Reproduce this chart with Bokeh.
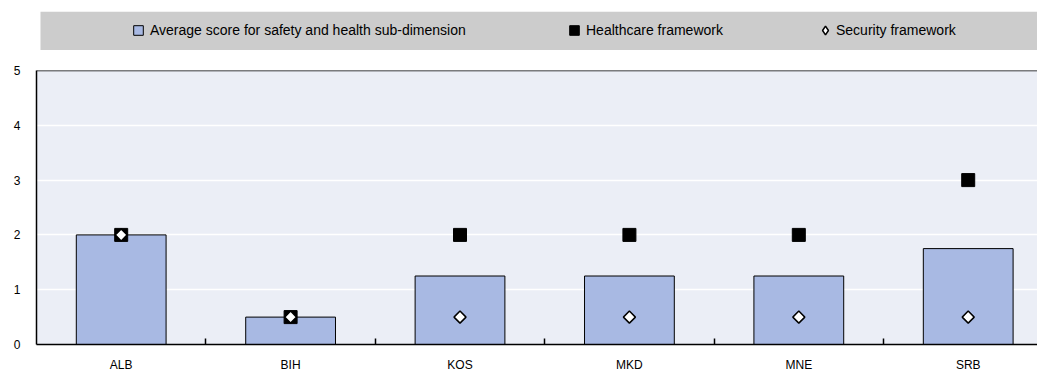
from bokeh.plotting import figure
from bokeh.models import (Range1d, FixedTicker, Legend, LegendItem, Span,
                          ColumnDataSource, BoxAnnotation)
from bokeh.layouts import column
from bokeh.embed import file_html
from bokeh.resources import INLINE

# ---- data ----
countries = ["ALB", "BIH", "KOS", "MKD", "MNE", "SRB"]
avg_score = [2.0, 0.5, 1.25, 1.25, 1.25, 1.75]
healthcare = [2.0, 0.5, 2.0, 2.0, 2.0, 3.0]
security = [2.0, 0.5, 0.5, 0.5, 0.5, 0.5]
y_ticks = [0, 1, 2, 3, 4, 5]
series_labels = ["Average score for safety and health sub-dimension",
                 "Healthcare framework",
                 "Security framework"]

FONT = "Liberation Sans"
BAR = "#A8B9E3"
BG = "#EBEEF6"
LEG_BG = "#CCCCCC"

xpos = [i + 0.5 for i in range(len(countries))]
bounds = list(range(1, len(countries)))
src = ColumnDataSource(dict(x=xpos, country=countries, avg=avg_score,
                            hc=healthcare, sec=security))

# ---- main plot ----
p = figure(width=1037, height=324, output_backend="svg", toolbar_location=None,
           x_range=Range1d(0, 5.909), y_range=Range1d(0, 5),
           min_border_left=36, min_border_right=0, min_border_top=20,
           min_border_bottom=28, background_fill_color=BG,
           border_fill_color="white", outline_line_color=None)

p.vbar(x="x", top="avg", width=0.53, source=src, fill_color=BAR,
       line_color="black", line_width=1)
p.scatter(x="x", y="hc", source=src, marker="square", size=13,
          fill_color="black", line_color="black")
p.scatter(x="x", y="sec", source=src, marker="square", angle=0.7854, size=8.5,
          fill_color="white", line_color="black", line_width=1.5)

p.add_layout(Span(location=5, dimension="width", line_color="black", line_width=1.5))

p.xgrid.visible = False
p.ygrid.grid_line_color = "white"
p.ygrid.grid_line_width = 1.5

xa = p.xaxis[0]
xa.ticker = FixedTicker(ticks=xpos, minor_ticks=bounds)
xa.major_label_overrides = {x: c for x, c in zip(xpos, countries)}
xa.major_tick_in = 0
xa.major_tick_out = 0
xa.major_tick_line_color = None
xa.minor_tick_in = 6
xa.minor_tick_out = 0
xa.minor_tick_line_color = "black"
xa.minor_tick_line_width = 1.5
xa.axis_line_color = "black"
xa.axis_line_width = 1.5
xa.major_label_standoff = 13
xa.major_label_text_font = FONT
xa.major_label_text_font_size = "12px"
xa.major_label_text_color = "black"

ya = p.yaxis[0]
ya.ticker = FixedTicker(ticks=y_ticks)
ya.major_tick_in = 0
ya.major_tick_out = 0
ya.minor_tick_line_color = None
ya.axis_line_color = "black"
ya.axis_line_width = 1.5
ya.major_label_standoff = 16
ya.major_label_text_font = FONT
ya.major_label_text_font_size = "12px"
ya.major_label_text_color = "black"

# ---- legend strip (frame aligned with the plot frame, gray band drawn as a box) ----
lg = figure(width=1037, height=50, output_backend="svg", toolbar_location=None,
            x_range=Range1d(0, 1001), y_range=Range1d(0, 1),
            x_axis_location=None, y_axis_location=None,
            min_border_left=36, min_border_right=0, min_border_top=11,
            min_border_bottom=0, background_fill_color="white",
            border_fill_color="white", outline_line_color=None)
lg.xgrid.visible = False
lg.ygrid.visible = False
lg.add_layout(BoxAnnotation(left=4, fill_color=LEG_BG, fill_alpha=1.0,
                            line_color=None))

# proxy renderers (kept outside the visible range) so the legend can draw its swatches
hid = dict(x=[-9], y=[-9])
r1 = lg.scatter(x=hid["x"], y=hid["y"], marker="square", fill_color=BAR,
                line_color="black", line_width=1)
r2 = lg.scatter(x=hid["x"], y=hid["y"], marker="square", fill_color="black",
                line_color="black")
r3 = lg.scatter(x=hid["x"], y=hid["y"], marker="diamond",
                fill_color="white", line_color="black", line_width=1.5)

specs = [(r1, series_labels[0], 90, 8, 24, 0),
         (r2, series_labels[1], 526, 8, 24, 0),
         (r3, series_labels[2], 778, 9, 22, 0)]
for r, lab, lx, ly, gsz, stand in specs:
    leg = Legend(items=[LegendItem(label=lab, renderers=[r], index=0)], location=(lx, ly),
                 orientation="horizontal", padding=0, margin=0,
                 glyph_width=gsz, glyph_height=gsz, label_standoff=stand,
                 label_text_font=FONT, label_text_font_size="14px",
                 label_text_color="black", background_fill_alpha=0,
                 border_line_color=None)
    lg.add_layout(leg, "center")

layout = column(lg, p)
open("out.html", "w").write(file_html(layout, INLINE))
